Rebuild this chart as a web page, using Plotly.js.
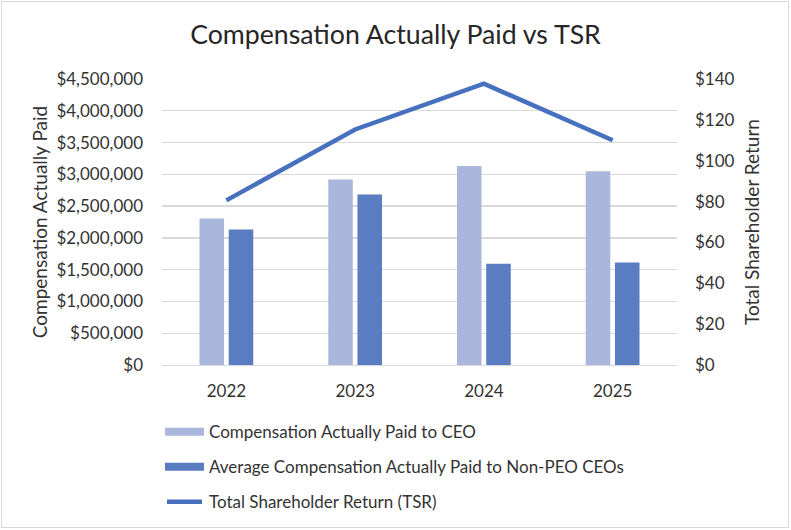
<!DOCTYPE html>
<html>
<head>
<meta charset="utf-8">
<script src="https://cdn.plot.ly/plotly-3.0.1.min.js"></script>
<style>
  html, body { margin: 0; padding: 0; background: #ffffff; }
  #wrap { position: relative; width: 791px; height: 530px; }
  #chart { position: absolute; left: 0; top: 0; width: 791px; height: 530px; }
  #frame { position: absolute; left: 1px; top: 1px; width: 786px; height: 525px;
           border: 1.5px solid #d9d9d9; pointer-events: none; }
</style>
</head>
<body>
<div id="wrap">
  <div id="chart"></div>
  <div id="frame"></div>
</div>
<script>
// Fiscal years
const years = ['2022', '2023', '2024', '2025'];
// Compensation actually paid to the CEO ($)
const ceoPay = [2306000, 2919000, 3133000, 3049000];
// Average compensation actually paid to non-PEO CEOs ($)
const nonPeoPay = [2133000, 2683000, 1592000, 1614000];
// Total shareholder return (value of $100 invested)
const tsr = [80.6, 115.3, 137.7, 110.0];

const seriesNames = [
  'Compensation Actually Paid to CEO',
  'Average Compensation Actually Paid to Non-PEO CEOs',
  'Total Shareholder Return (TSR)'
];
const leftTicks = [0, 500000, 1000000, 1500000, 2000000, 2500000, 3000000, 3500000, 4000000, 4500000];
const rightTicks = [0, 20, 40, 60, 80, 100, 120, 140];

const colors = { ceo: '#A9B7DC', nonPeo: '#5A7DC1', tsr: '#4770BF' };
const FONT = 'Lato, "Open Sans", sans-serif';
const TEXT = '#333333';

// Plot area in pixels
const W = 791, H = 530;
const M = { l: 162, r: 114, t: 79, b: 165 };
const pw = W - M.l - M.r, ph = H - M.t - M.b;
const px = x => (x - M.l) / pw;          // page x -> paper x
const py = y => (H - M.b - y) / ph;      // page y -> paper y

const fmtMoney = v => '$' + v.toLocaleString('en-US');

const traces = [
  {
    type: 'bar', name: seriesNames[0], x: years, y: ceoPay,
    marker: { color: colors.ceo }, yaxis: 'y', hoverinfo: 'x+y'
  },
  {
    type: 'bar', name: seriesNames[1], x: years, y: nonPeoPay,
    marker: { color: colors.nonPeo }, yaxis: 'y', hoverinfo: 'x+y'
  },
  {
    type: 'scatter', mode: 'lines', name: seriesNames[2], x: years, y: tsr,
    line: { color: colors.tsr, width: 4.5 }, yaxis: 'y2'
  }
];

// Legend drawn beneath the plot with wide swatches
const legendRows = [431.7, 466.7, 501.7];
const shapes = [];
const annotations = [];
legendRows.forEach((yy, i) => {
  if (i < 2) {
    shapes.push({
      type: 'rect', xref: 'paper', yref: 'paper',
      x0: px(165), x1: px(204), y0: py(yy + 4), y1: py(yy - 4),
      fillcolor: i === 0 ? colors.ceo : colors.nonPeo, line: { width: 0 }
    });
  } else {
    shapes.push({
      type: 'line', xref: 'paper', yref: 'paper',
      x0: px(167), x1: px(202), y0: py(yy), y1: py(yy),
      line: { color: colors.tsr, width: 4.5 }
    });
  }
  annotations.push({
    xref: 'paper', yref: 'paper', x: px(207), y: py(yy),
    xanchor: 'left', yanchor: 'middle', showarrow: false,
    text: seriesNames[i], font: { family: FONT, size: 17, color: TEXT }
  });
});

const layout = {
  width: W, height: H,
  margin: M,
  paper_bgcolor: '#ffffff', plot_bgcolor: '#ffffff',
  showlegend: false,
  barmode: 'group', bargap: 0.546, bargroupgap: 0.16,
  font: { family: FONT, color: TEXT },
  title: {
    text: 'Compensation Actually Paid vs TSR',
    font: { family: FONT, size: 26.7, color: '#262626' },
    xref: 'container', yref: 'container', x: 0.5, y: 1 - 35 / H,
    xanchor: 'center', yanchor: 'middle'
  },
  xaxis: {
    type: 'category', showgrid: false, zeroline: false,
    showline: true, linecolor: '#d9d9d9', linewidth: 1.3,
    ticks: '', ticklabelstandoff: 10,
    tickfont: { family: FONT, size: 17, color: TEXT }
  },
  yaxis: {
    range: [0, 4500000], tickvals: leftTicks, ticktext: leftTicks.map(fmtMoney),
    showgrid: true, gridcolor: '#d9d9d9', gridwidth: 1.3, zeroline: false,
    showline: false, ticks: '', ticklabelstandoff: 18,
    tickfont: { family: FONT, size: 17, color: TEXT },
    title: { text: 'Compensation Actually Paid', standoff: 3,
             font: { family: FONT, size: 19, color: TEXT } }
  },
  yaxis2: {
    overlaying: 'y', side: 'right',
    range: [0, 140], tickvals: rightTicks, ticktext: rightTicks.map(v => '$' + v),
    showgrid: false, zeroline: false, showline: false, ticks: '', ticklabelstandoff: 17,
    tickfont: { family: FONT, size: 17, color: TEXT },
    title: { text: 'Total Shareholder Return', standoff: 12,
             font: { family: FONT, size: 19, color: TEXT } }
  },
  shapes: shapes,
  annotations: annotations
};

Plotly.newPlot('chart', traces, layout, { displayModeBar: false, staticPlot: true });
</script>
</body>
</html>
